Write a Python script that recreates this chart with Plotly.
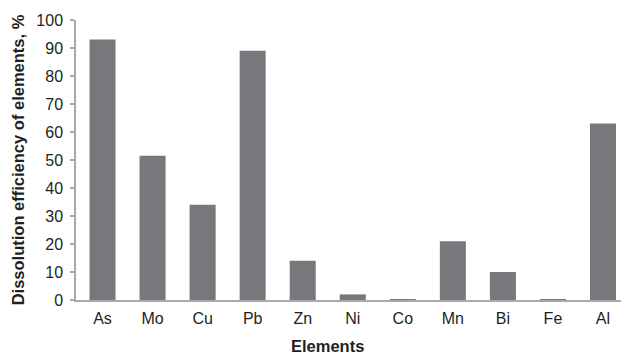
import plotly.graph_objects as go

elements = ["As", "Mo", "Cu", "Pb", "Zn", "Ni", "Co", "Mn", "Bi", "Fe", "Al"]
efficiency = [93, 51.5, 34, 89, 14, 2, 0.2, 21, 10, 0.2, 63]
y_ticks = [0, 10, 20, 30, 40, 50, 60, 70, 80, 90, 100]

fig = go.Figure(go.Bar(x=list(range(len(elements))), y=efficiency,
                       marker=dict(color="#77787b", line=dict(width=0))))

fig.update_layout(
    width=621, height=354,
    margin=dict(l=76, r=0, t=20, b=54, autoexpand=False),
    paper_bgcolor="white", plot_bgcolor="white",
    bargap=0.48,
    showlegend=False,
    font=dict(family="Liberation Sans, Arial, sans-serif", color="#231f20", size=16),
    xaxis=dict(
        range=[-0.53, 10.36],
        tickmode="array", tickvals=list(range(len(elements))), ticktext=elements,
        showline=True, linecolor="#a7a9ac", linewidth=1.5,
        showgrid=False, ticks="", zeroline=False, automargin=False,
        tickfont=dict(size=16), ticklabelstandoff=3,
    ),
    yaxis=dict(
        range=[0, 100],
        tickmode="array", tickvals=y_ticks,
        showline=True, linecolor="#a7a9ac", linewidth=1.5,
        ticks="outside", ticklen=4, tickcolor="#a7a9ac", tickwidth=1.5,
        showgrid=False, zeroline=False, automargin=False,
        tickfont=dict(size=16), ticklabelstandoff=4,
        title=dict(text="<b>Dissolution efficiency of elements, %</b>", font=dict(size=16.5), standoff=8),
    ),
    annotations=[dict(text="<b>Elements</b>", xref="paper", yref="paper",
                      x=0.462, y=-0.164, xanchor="center", yanchor="middle",
                      showarrow=False, font=dict(size=16.5))],
)

fig.write_html("out.html", config={"displayModeBar": False},
               post_script="document.body.style.margin='0px';document.body.style.overflow='hidden';")
